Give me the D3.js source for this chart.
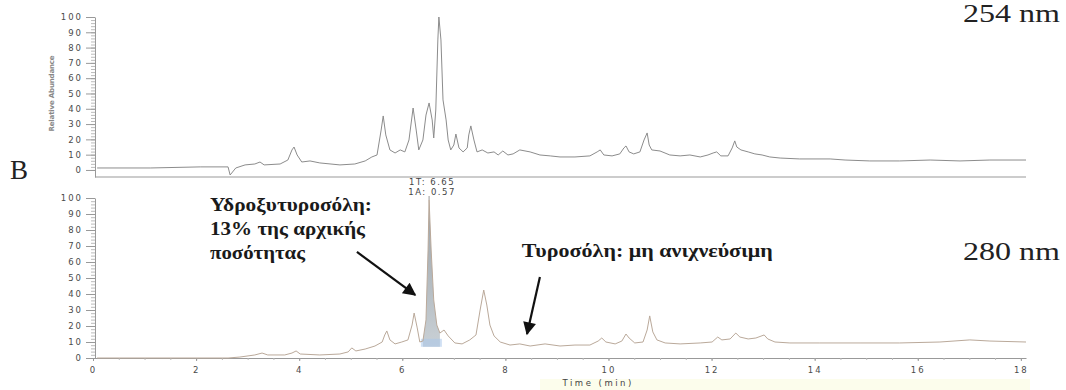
<!DOCTYPE html>
<html lang="el">
<head>
  <meta charset="UTF-8">
  <title>Χρωματογράφημα 254 / 280 nm</title>
  <script src="https://d3js.org/d3.v7.min.js"></script>
  <style>
    body {
      margin: 0;
      background: white;
    }
    .axis path,
    .axis line {
      stroke: #999;
      stroke-width: 1;
    }
    .axis text {
      font-family: "DejaVu Sans", sans-serif;
      font-size: 8.5px;
      fill: #4a4a4a;
      letter-spacing: 2px;
    }
    .minor line {
      stroke: #bbb;
    }
    .note {
      font-family: "Liberation Serif", serif;
      font-weight: bold;
      font-size: 18px;
      fill: #1a1a1a;
    }
    .big {
      font-family: "Liberation Serif", serif;
      font-size: 26px;
      fill: #222;
    }
    .small {
      font-family: "DejaVu Sans", sans-serif;
      font-size: 8.5px;
      fill: #444;
      letter-spacing: 1.5px;
    }
  </style>
</head>
<body>
  <div id="chart"></div>

  <script>
    // 254 nm trace (time in min, relative abundance %)
    const timesTop = [0.08, 1.11, 2.08, 2.62, 2.66, 2.77, 2.95, 3.14, 3.24, 3.32, 3.63, 3.78, 3.86, 3.90, 3.96,
      4.05, 4.21, 4.40, 4.79, 5.08, 5.28, 5.41, 5.51, 5.59, 5.63, 5.68, 5.76, 5.86, 5.96, 6.05, 6.13, 6.21,
      6.27, 6.32, 6.40, 6.46, 6.52, 6.58, 6.61, 6.65, 6.69, 6.71, 6.75, 6.79, 6.85, 6.89, 6.94, 7.00, 7.04,
      7.10, 7.18, 7.26, 7.29, 7.33, 7.39, 7.45, 7.55, 7.66, 7.78, 7.86, 7.95, 8.05, 8.15, 8.28, 8.48, 8.67,
      8.87, 9.06, 9.35, 9.64, 9.78, 9.84, 9.91, 10.07, 10.22, 10.30, 10.34, 10.40, 10.49, 10.61, 10.69, 10.75,
      10.79, 10.84, 11.00, 11.19, 11.39, 11.58, 11.78, 11.93, 12.03, 12.10, 12.18, 12.32, 12.40, 12.45, 12.49,
      12.57, 12.71, 12.84, 12.98, 13.13, 13.33, 13.71, 14.30, 14.59, 15.07, 15.65, 16.24, 16.82, 17.40, 18.10];
    const intensTop = [1.3, 1.3, 2.0, 2.0, -3.3, 1.3, 3.3, 3.9, 5.2, 3.3, 3.9, 6.5, 13.1, 15.0, 9.8,
      5.2, 5.9, 4.6, 3.3, 3.9, 5.9, 8.5, 9.8, 26.1, 35.3, 22.9, 13.1, 11.1, 13.1, 11.8, 19.6, 40.5,
      26.1, 13.1, 19.6, 35.9, 43.8, 32.7, 20.9, 39.2, 85.0, 100, 85.0, 45.8, 32.7, 19.6, 13.1, 16.3, 23.5,
      14.4, 11.8, 14.4, 22.9, 28.8, 19.6, 11.8, 13.1, 11.1, 11.8, 9.8, 12.4, 9.8, 10.5, 13.1, 11.8, 9.8,
      9.2, 8.5, 8.5, 9.2, 11.8, 13.1, 9.8, 9.2, 10.5, 14.4, 15.7, 11.8, 10.5, 11.8, 19.6, 24.2,
      16.3, 13.1, 12.4, 9.8, 9.2, 9.8, 8.5, 9.8, 11.1, 11.8, 9.2, 9.2, 14.4, 19.0, 15.0,
      13.1, 11.8, 10.5, 9.8, 8.5, 7.8, 7.2, 7.2, 6.5, 5.9, 5.9, 6.5, 5.9, 6.5, 6.5];

    // 280 nm trace
    const timesBottom = [0.08, 2.62, 2.85, 3.14, 3.28, 3.39, 3.72, 3.86, 3.94, 4.02, 4.40, 4.79, 4.95, 5.02,
      5.10, 5.28, 5.47, 5.61, 5.66, 5.70, 5.76, 5.86, 5.99, 6.11, 6.19, 6.23, 6.29, 6.34, 6.40, 6.46, 6.50,
      6.52, 6.56, 6.61, 6.67, 6.73, 6.81, 6.89, 7.02, 7.16, 7.31, 7.43, 7.51, 7.58, 7.64, 7.70, 7.78, 7.90,
      8.09, 8.28, 8.48, 8.77, 9.06, 9.35, 9.64, 9.80, 9.87, 9.95, 10.13, 10.26, 10.34, 10.40, 10.51, 10.67,
      10.75, 10.80, 10.86, 10.94, 11.10, 11.39, 11.78, 12.01, 12.12, 12.20, 12.36, 12.47, 12.55, 12.71, 12.86,
      13.02, 13.09, 13.23, 13.52, 14.10, 14.88, 15.65, 16.43, 17.01, 17.40, 18.10];
    const intensBottom = [0, 0, 0.6, 1.9, 3.1, 1.9, 1.9, 3.1, 4.4, 2.5, 1.9, 2.5, 3.8, 6.3,
      4.4, 5.6, 7.5, 10.0, 14.4, 16.9, 11.3, 8.8, 10.0, 11.3, 20.6, 28.1, 18.8, 10.0, 10.6, 23.8, 67.5,
      98.8, 67.5, 36.3, 20.6, 15.6, 17.5, 13.8, 9.4, 8.8, 11.3, 14.4, 30.0, 42.5, 33.1, 20.6, 13.8, 10.0,
      8.1, 8.8, 7.5, 8.8, 7.5, 8.1, 8.1, 10.6, 12.5, 10.0, 8.8, 10.6, 15.0, 12.5, 9.4, 10.0,
      17.5, 26.3, 16.3, 11.3, 9.4, 8.8, 9.4, 10.0, 13.1, 11.3, 11.9, 15.6, 13.1, 11.9, 12.5,
      14.4, 11.9, 10.0, 9.4, 9.4, 9.4, 9.4, 10.0, 11.3, 10.6, 10.0];

    // integrated peak (hydroxytyrosol) and its label
    const peakRange = [6.40, 6.73];
    const peakBase = [7, 12];
    const peakLabels = ["1T: 6.65", "1A: 0.57"];

    const yTicks = d3.range(0, 101, 10);
    const yMinor = d3.range(0, 101, 2);
    const xTicks = d3.range(0, 19, 2);
    const xMinor = d3.range(0, 18.1, 0.5);

    // annotation texts: [time, intensity] of the baseline start
    const notes = [
      { t: 2.27, v: 91.9, text: "Υδροξυτυροσόλη:", len: 162 },
      { t: 2.27, v: 76.9, text: "13% της αρχικής", len: 155 },
      { t: 2.27, v: 61.9, text: "ποσότητας", len: 95 },
      { t: 8.32, v: 63.1, text: "Τυροσόλη: μη ανιχνεύσιμη", len: 251 }
    ];
    const arrows = [
      { from: [5.12, 66.3], to: [6.25, 39.4] },
      { from: [8.67, 50.6], to: [8.42, 15.0] }
    ];

    const width = 1066, height = 390;
    const svg = d3.select("#chart")
      .append("svg")
      .attr("width", width)
      .attr("height", height);

    const defs = svg.append("defs");
    defs.append("marker")
      .attr("id", "head")
      .attr("viewBox", "0 0 10 10")
      .attr("refX", 9)
      .attr("refY", 5)
      .attr("markerWidth", 17)
      .attr("markerHeight", 13)
      .attr("markerUnits", "userSpaceOnUse")
      .attr("orient", "auto")
      .append("path")
      .attr("d", "M0,0 L10,5 L0,10 z")
      .attr("fill", "#111");
    const grad = defs.append("linearGradient")
      .attr("id", "peakFill")
      .attr("x1", 0).attr("y1", 0).attr("x2", 0).attr("y2", 1);
    grad.append("stop").attr("offset", "0%").attr("stop-color", "#9aa2a8");
    grad.append("stop").attr("offset", "100%").attr("stop-color", "#c9d0d5");
    defs.append("clipPath").attr("id", "clipR")
      .append("rect").attr("x", 0).attr("y", 0).attr("width", 1027).attr("height", height);

    // faint scan tint bottom right
    svg.append("rect")
      .attr("x", 540).attr("y", 379).attr("width", 490).attr("height", 11)
      .attr("fill", "#fcfdec");

    const x = d3.scaleLinear().domain([0, 18.1]).range([93, 1026]);
    const yTop = d3.scaleLinear().domain([-4.6, 100]).range([177, 17]);
    const yBot = d3.scaleLinear().domain([0, 100]).range([358, 198]);
    const axisX = 95;

    function yAxis(scale) {
      svg.append("g")
        .attr("class", "axis minor")
        .attr("transform", `translate(${axisX},0)`)
        .call(d3.axisLeft(scale).tickValues(yMinor).tickSize(4).tickSizeOuter(0).tickFormat(""));
      svg.append("g")
        .attr("class", "axis")
        .attr("transform", `translate(${axisX},0)`)
        .call(d3.axisLeft(scale).tickValues(yTicks).tickSize(9).tickPadding(3).tickSizeOuter(0))
        .select(".domain").remove();
    }
    yAxis(yTop);
    yAxis(yBot);

    // top panel baseline axis (no labels)
    svg.append("line")
      .attr("x1", axisX).attr("x2", x(18.1))
      .attr("y1", yTop(-4.6)).attr("y2", yTop(-4.6))
      .attr("stroke", "#999");

    // bottom time axis
    svg.append("g")
      .attr("class", "axis minor")
      .attr("transform", `translate(0,${yBot(0)})`)
      .call(d3.axisBottom(x).tickValues(xMinor).tickSize(2).tickSizeOuter(0).tickFormat(""));
    svg.append("g")
      .attr("class", "axis")
      .attr("clip-path", "url(#clipR)")
      .attr("transform", `translate(0,${yBot(0)})`)
      .call(d3.axisBottom(x).tickValues(xTicks).tickSize(3).tickPadding(6).tickSizeOuter(0))
      .select(".domain").remove();

    svg.append("text")
      .attr("class", "small")
      .attr("x", x(9.8))
      .attr("y", 386)
      .attr("text-anchor", "middle")
      .style("letter-spacing", "2.5px")
      .text("Time (min)");

    svg.append("text")
      .attr("class", "small")
      .attr("transform", `translate(54,${yTop(50)}) rotate(-90)`)
      .attr("text-anchor", "middle")
      .attr("textLength", 76)
      .style("font-size", "7px")
      .style("font-weight", "bold")
      .style("fill", "#888")
      .style("letter-spacing", "0px")
      .text("Relative Abundance");

    // traces
    const topData = timesTop.map((t, i) => [t, intensTop[i]]);
    const botData = timesBottom.map((t, i) => [t, intensBottom[i]]);

    svg.append("path")
      .datum(topData)
      .attr("fill", "none")
      .attr("stroke", "#8c8c8c")
      .attr("stroke-width", 1)
      .attr("d", d3.line().x(d => x(d[0])).y(d => yTop(d[1])));

    const peak = botData.filter(d => d[0] >= peakRange[0] && d[0] <= peakRange[1]);
    svg.append("path")
      .datum(peak)
      .attr("fill", "url(#peakFill)")
      .attr("d", d3.area().x(d => x(d[0])).y0(yBot(peakBase[0])).y1(d => yBot(d[1])));
    svg.append("rect")
      .attr("x", x(peakRange[0]) - 2)
      .attr("width", x(peakRange[1]) - x(peakRange[0]) + 4)
      .attr("y", yBot(peakBase[1]))
      .attr("height", yBot(peakBase[0]) - yBot(peakBase[1]))
      .attr("fill", "#a9c6ea")
      .attr("opacity", 0.55);

    svg.append("path")
      .datum(botData)
      .attr("fill", "none")
      .attr("stroke", "#baa99a")
      .attr("stroke-width", 1)
      .attr("d", d3.line().x(d => x(d[0])).y(d => yBot(d[1])));

    const apex = botData[d3.maxIndex(botData, d => d[1])];
    svg.append("line")
      .attr("x1", x(apex[0])).attr("x2", x(apex[0]))
      .attr("y1", yBot(apex[1])).attr("y2", 196)
      .attr("stroke", "#999");
    peakLabels.forEach((s, i) => {
      svg.append("text")
        .attr("class", "small")
        .attr("x", x(apex[0]) + 3)
        .attr("y", 185 + i * 10)
        .attr("text-anchor", "middle")
        .text(s);
    });

    // annotations
    notes.forEach(n => {
      svg.append("text")
        .attr("class", "note")
        .attr("x", x(n.t))
        .attr("y", yBot(n.v))
        .attr("textLength", n.len)
        .attr("lengthAdjust", "spacingAndGlyphs")
        .text(n.text);
    });
    arrows.forEach(a => {
      svg.append("line")
        .attr("x1", x(a.from[0])).attr("y1", yBot(a.from[1]))
        .attr("x2", x(a.to[0])).attr("y2", yBot(a.to[1]))
        .attr("stroke", "#111")
        .attr("stroke-width", 2.2)
        .attr("marker-end", "url(#head)");
    });

    svg.append("text").attr("class", "big")
      .attr("x", 963).attr("y", 22)
      .attr("textLength", 97).attr("lengthAdjust", "spacingAndGlyphs")
      .text("254 nm");
    svg.append("text").attr("class", "big")
      .attr("x", 963).attr("y", 260)
      .attr("textLength", 97).attr("lengthAdjust", "spacingAndGlyphs")
      .text("280 nm");
    svg.append("text").attr("class", "big")
      .attr("x", 10).attr("y", 179)
      .style("font-size", "27px")
      .text("B");
  </script>
</body>
</html>
